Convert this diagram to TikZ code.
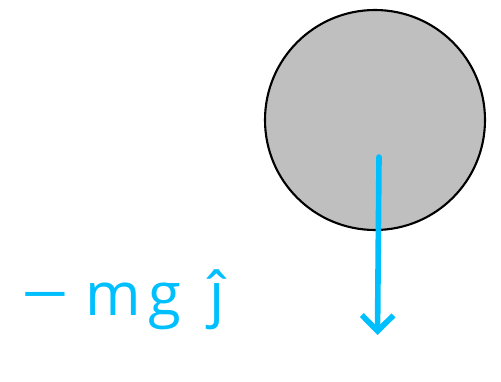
\documentclass[tikz,border=0pt]{standalone}
\usepackage{fontspec}
\setmainfont{Open Sans}
\usetikzlibrary{arrows.meta}
\definecolor{vecblue}{RGB}{0,191,255}
\begin{document}
\begin{tikzpicture}[
        ball/.style={
            circle,
            draw=black,
            line width=1.2pt,
            fill=black!25,
            minimum size=4.4cm,
            inner sep=0pt
        },
        force/.style={
            draw=vecblue,
            line width=3.2pt,
            line cap=round,
            -{Straight Barb[length=9pt,width=18pt,line width=3.2pt]}
        },
        forcelabel/.style={
            text=vecblue,
            font=\fontsize{34}{40}\selectfont,
            inner sep=0pt,
            anchor=base west
        }
    ]
        \useasboundingbox (0,0) rectangle (10.02,7.62);

        % Body
        \node[ball] (body) at (7.5,5.22) {};

        % Weight vector
        \coordinate (tail) at (7.58,4.48);
        \coordinate (tip) at (7.55,0.92);
        \draw[force] (tail) -- (tip);

        % Label
        \node[forcelabel] (weight) at (0.42,1.32)
            {\scalebox{1.4}[1]{−}\hspace{0.33cm}m\hspace{0.15cm}g\hspace{0.57cm}ĵ};
    \end{tikzpicture}
\end{document}
